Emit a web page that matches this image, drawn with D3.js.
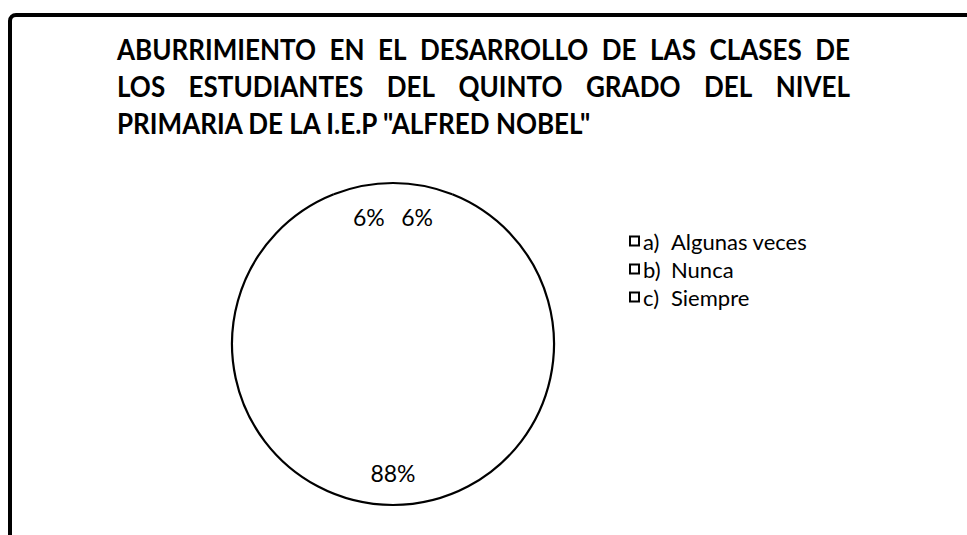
<!DOCTYPE html>
<html>
<head>
<meta charset="utf-8">
<script src="https://cdn.jsdelivr.net/npm/d3@7"></script>
<style>
  html, body { margin: 0; padding: 0; background: #fff; }
  svg { display: block; }
</style>
</head>
<body>
<svg id="chart" width="967" height="535"></svg>
<script>
// ---- data ----
const titleLines = [
  "ABURRIMIENTO EN EL DESARROLLO DE LAS CLASES DE",
  "LOS ESTUDIANTES DEL QUINTO GRADO DEL NIVEL",
  "PRIMARIA DE LA I.E.P \"ALFRED NOBEL\""
];
const categories = ["a)", "b)", "c)"];
const categoryLabels = ["Algunas veces", "Nunca", "Siempre"];
const values = [6, 88, 6];

// ---- layout ----
const W = 967, H = 535;
const svg = d3.select("#chart");
svg.append("rect").attr("width", W).attr("height", H).attr("fill", "#fff");

// frame
svg.append("rect")
  .attr("x", 10).attr("y", 15)
  .attr("width", W + 40).attr("height", H + 40)
  .attr("rx", 6)
  .attr("fill", "none").attr("stroke", "#000").attr("stroke-width", 4);

// title (condensed bold, lines 1-2 justified)
const titleX = 117, titleRight = 850, sx = 0.93;
const titleY = [60, 97, 134];
const justify = [true, true, false];
const tg = svg.append("g")
  .attr("transform", `translate(${titleX},0) scale(${sx},1)`)
  .attr("font-family", "Lato, 'Open Sans', sans-serif")
  .attr("font-weight", "bold")
  .attr("font-size", 28)
  .attr("fill", "#000");
const localW = (titleRight - titleX) / sx;
titleLines.forEach((line, i) => {
  const words = line.split(" ");
  if (!justify[i]) {
    tg.append("text").attr("x", 0).attr("y", titleY[i]).text(line);
    return;
  }
  const nodes = words.map(w => tg.append("text").attr("y", titleY[i]).text(w));
  const widths = nodes.map(n => n.node().getComputedTextLength());
  const gap = (localW - d3.sum(widths)) / (words.length - 1);
  let x = 0;
  nodes.forEach((n, j) => { n.attr("x", x); x += widths[j] + gap; });
});

// pie
const cx = 393, cy = 344, R = 161;
const pie = d3.pie().sort(null).value(d => d)(values);
const arc = d3.arc().innerRadius(0).outerRadius(R);
const edge = d3.arc().innerRadius(R).outerRadius(R);
const labelArc = d3.arc().innerRadius(R * 0.8).outerRadius(R * 0.8);
const pg = svg.append("g").attr("transform", `translate(${cx},${cy})`);
pg.selectAll("path.slice").data(pie).join("path")
  .attr("class", "slice").attr("d", arc).attr("fill", "#fff").attr("stroke", "none");
pg.selectAll("path.edge").data(pie).join("path")
  .attr("class", "edge").attr("d", edge).attr("fill", "none")
  .attr("stroke", "#000").attr("stroke-width", 2.2);
pg.selectAll("text").data(pie).join("text")
  .attr("transform", d => `translate(${labelArc.centroid(d)})`)
  .attr("text-anchor", "middle").attr("dominant-baseline", "central")
  .attr("font-family", "Lato, 'Open Sans', sans-serif")
  .attr("font-size", 23)
  .text(d => d.data + "%");

// legend
const legX = 630, legY0 = 241, legStep = 28;
const lg = svg.append("g")
  .attr("font-family", "Lato, 'Open Sans', sans-serif")
  .attr("font-size", 22);
categories.forEach((c, i) => {
  const y = legY0 + i * legStep;
  lg.append("rect").attr("x", legX).attr("y", y - 4.5).attr("width", 9).attr("height", 9)
    .attr("fill", "#fff").attr("stroke", "#000").attr("stroke-width", 2);
  lg.append("text").attr("x", legX + 13).attr("y", y).attr("dominant-baseline", "central").text(c);
  lg.append("text").attr("x", legX + 41).attr("y", y).attr("dominant-baseline", "central").text(categoryLabels[i]);
});
</script>
</body>
</html>
